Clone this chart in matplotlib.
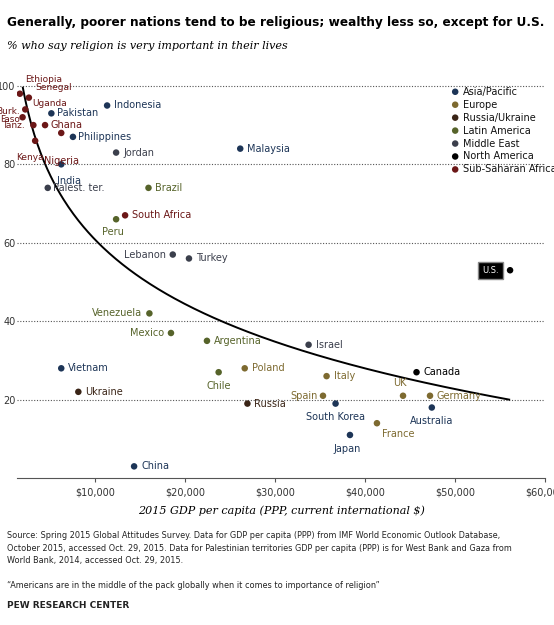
import numpy as np
import matplotlib
matplotlib.use("Agg")
import matplotlib.pyplot as plt

countries = ["Ethiopia","Senegal","Uganda","Burk.\nFaso","Tanz.","Ghana","Kenya","Nigeria","Pakistan","Philippines","India","Palest. ter.","Indonesia","Jordan",
             "Malaysia","Brazil","South Africa","Peru","Lebanon","Turkey","U.S.","Venezuela","Mexico","Argentina","Israel","Vietnam","Canada","Chile","Poland","Italy",
             "Ukraine","Spain","UK","Germany","Russia","South Korea","Australia","France","Japan","China"]
gdp = [1600,2600,2200,1900,3100,4400,3300,6200,5100,7500,6200,4700,11300,12300,
       26100,15900,13300,12300,18600,20400,56100,16000,18400,22400,33700,6200,45700,23700,26600,35700,
       8100,35300,44200,47200,26900,36700,47400,41300,38300,14300]
religious = [98,97,94,92,90,90,86,88,93,87,80,74,95,83,
             84,74,67,66,57,56,53,42,37,35,34,28,27,27,28,26,
             22,21,21,21,19,19,18,14,11,3]
region = ["SSA","SSA","SSA","SSA","SSA","SSA","SSA","SSA","AP","AP","AP","ME","AP","ME",
          "AP","LA","SSA","LA","ME","ME","NA","LA","LA","LA","ME","AP","NA","LA","EU","EU",
          "RU","EU","EU","EU","RU","AP","AP","EU","AP","AP"]
regions = ["AP","EU","RU","LA","ME","NA","SSA"]
region_names = ["Asia/Pacific","Europe","Russia/Ukraine","Latin America","Middle East","North America","Sub-Saharan Africa"]
colors = {"AP":"#1d3557","EU":"#7d6a30","RU":"#3a2416","LA":"#56632a","ME":"#3b3f4c","NA":"#000000","SSA":"#6b1717"}

offs = {"Ethiopia":(4,10,"left"),"Senegal":(5,7,"left"),"Uganda":(5,4,"left"),"Burk.\nFaso":(-2,1,"right"),"Tanz.":(-6,0,"right"),
        "Ghana":(4,0,"left"),"Kenya":(-4,-12,"center"),"Nigeria":(0,-20,"center"),"Pakistan":(4,0,"left"),"Philippines":(4,0,"left"),
        "India":(-3,-12,"left"),"Palest. ter.":(4,0,"left"),"Indonesia":(5,0,"left"),"Jordan":(5,0,"left"),"Malaysia":(5,0,"left"),
        "Brazil":(5,0,"left"),"South Africa":(5,0,"left"),"Peru":(-2,-9,"center"),"Lebanon":(-5,0,"right"),"Turkey":(5,0,"left"),
        "Venezuela":(-5,0,"right"),"Mexico":(-5,0,"right"),"Argentina":(5,0,"left"),"Israel":(5,0,"left"),"Vietnam":(5,0,"left"),
        "Canada":(5,0,"left"),"Chile":(0,-10,"center"),"Poland":(5,0,"left"),"Italy":(5,0,"left"),"Ukraine":(5,0,"left"),
        "Spain":(-4,0,"right"),"UK":(-2,9,"center"),"Germany":(5,0,"left"),"Russia":(5,0,"left"),"South Korea":(0,-10,"center"),
        "Australia":(0,-10,"center"),"France":(4,-8,"left"),"Japan":(-2,-10,"center"),"China":(5,0,"left")}

fig = plt.figure(figsize=(5.54,6.25), dpi=100)
ax = fig.add_axes([0.031,0.235,0.953,0.637])
for y in [20,40,60,80,100]:
    ax.axhline(y, color="#555555", lw=0.8, ls=(0,(1,1.5)), zorder=0)

coef = np.polyfit(np.log(gdp), religious, 1)
xs = np.linspace(1750, 56000, 300)
ys = np.polyval(coef, np.log(xs))
m = ys <= 100
ax.plot(xs[m], ys[m], color="black", lw=1.4, zorder=1)

for c,x,y,r in zip(countries,gdp,religious,region):
    col = colors[r]
    ax.scatter(x,y,s=22,color=col,zorder=3,edgecolors="none")
    if c == "U.S.":
        ax.annotate("U.S.",(x,y),xytext=(-8,0),textcoords="offset points",ha="right",va="center",fontsize=6,color="white",
                    bbox=dict(boxstyle="square,pad=0.5",fc="black",ec="#888888"))
        continue
    dx,dy,ha = offs[c]
    small = c in ("Burk.\nFaso","Tanz.","Ethiopia","Senegal","Uganda","Kenya")
    ax.annotate(c,(x,y),xytext=(dx,dy),textcoords="offset points",ha=ha,va="center",fontsize=6.5 if small else 7,color=col,
                linespacing=0.85,zorder=4)

ly = 98.5
for r,n in zip(regions,region_names):
    ax.scatter(50000,ly,s=22,color=colors[r],edgecolors="none",zorder=3)
    ax.text(50900,ly,n,fontsize=7,va="center",color="#111111")
    ly -= 3.3

ax.set_xlim(1300,60000)
ax.set_ylim(0,101.5)
ax.set_xticks([10000,20000,30000,40000,50000,60000])
ax.set_xticklabels(["$10,000","$20,000","$30,000","$40,000","$50,000","$60,000"])
ax.set_yticks([20,40,60,80,100])
ax.tick_params(axis="y",labelsize=7,length=0,pad=1,colors="#333333")
ax.tick_params(axis="x",labelsize=7,length=3,color="#555555",labelcolor="#333333")
for s in ["top","right","left"]:
    ax.spines[s].set_visible(False)
ax.spines["bottom"].set_color("#555555")
ax.set_xlabel("2015 GDP per capita (PPP, current international $)",fontsize=8,style="italic",family="DejaVu Serif",labelpad=6)

fig.text(0.012,0.975,"Generally, poorer nations tend to be religious; wealthy less so, except for U.S.",fontsize=8.7,weight="bold",va="top")
fig.text(0.012,0.935,"% who say religion is very important in their lives",fontsize=8,style="italic",family="DejaVu Serif",va="top")
fig.text(0.012,0.15,"Source: Spring 2015 Global Attitudes Survey. Data for GDP per capita (PPP) from IMF World Economic Outlook Database,\nOctober 2015, accessed Oct. 29, 2015. Data for Palestinian territories GDP per capita (PPP) is for West Bank and Gaza from\nWorld Bank, 2014, accessed Oct. 29, 2015.",
         fontsize=5.9,va="top",linespacing=1.5,color="#222222")
fig.text(0.012,0.07,"\u201cAmericans are in the middle of the pack globally when it comes to importance of religion\u201d",fontsize=5.9,va="top",color="#222222")
fig.text(0.012,0.038,"PEW RESEARCH CENTER",fontsize=6.5,weight="bold",va="top",color="#222222")
fig.savefig("out.png",dpi=100)
